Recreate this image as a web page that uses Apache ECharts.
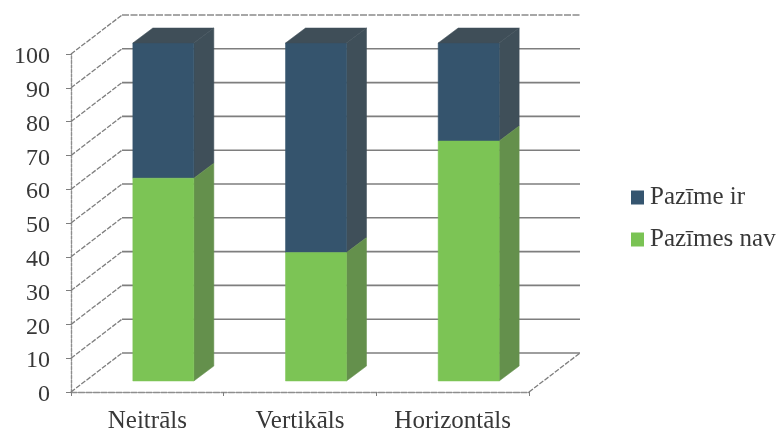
<!DOCTYPE html>
<html><head><meta charset="utf-8">
<style>html,body{margin:0;padding:0;background:#fff}#c{width:779px;height:432px}</style>
<script src="https://cdn.jsdelivr.net/npm/echarts@6/dist/echarts.min.js"></script>
</head><body><div id="c"></div>
<script>
const categories = ['Neitrāls', 'Vertikāls', 'Horizontāls'];
const pazimesNav = [60, 38, 71];
const pazimeIr = [40, 62, 29];
const yTicks = [0, 10, 20, 30, 40, 50, 60, 70, 80, 90, 100];

const FONT = '"Liberation Serif", "Times New Roman", serif';
const TEXT = '#383838';
const wallDx = 51, wallDy = -39;
const barDx = 16, barDy = -11, depthDx = 20, depthDy = -15;
const barWidth = 61;

function poly(points, fill) {
  return { type: 'polygon', shape: { points }, style: { fill, stroke: fill, lineWidth: 0.5 } };
}
function barItem(front, side, top, showTop) {
  return function (params, api) {
    const cat = api.value(0);
    const p0 = api.coord([cat, api.value(1)]);
    const p1 = api.coord([cat, api.value(2)]);
    const xl = p0[0] + barDx - barWidth / 2, xr = xl + barWidth;
    const yb = p0[1] + barDy, yt = p1[1] + barDy;
    const children = [
      poly([[xr, yb], [xr + depthDx, yb + depthDy], [xr + depthDx, yt + depthDy], [xr, yt]], side),
      poly([[xl, yb], [xr, yb], [xr, yt], [xl, yt]], front)
    ];
    if (showTop) {
      children.push(poly([[xl, yt], [xr, yt], [xr + depthDx, yt + depthDy], [xl + depthDx, yt + depthDy]], top));
    }
    return { type: 'group', children };
  };
}
function wallItem(params, api) {
  const v = api.value(0);
  const cs = params.coordSys;
  const y = api.coord([0, v])[1];
  const left = cs.x, right = cs.x + cs.width;
  const top = v === 100;
  const children = [
    { type: 'line', shape: { x1: left, y1: y, x2: left + wallDx, y2: y + wallDy },
      style: { stroke: '#7e7e7e', lineWidth: 1.3, lineDash: [5, 1.5] } },
    { type: 'line', shape: { x1: left + wallDx, y1: y + wallDy, x2: right + wallDx, y2: y + wallDy },
      style: top ? { stroke: '#8a8a8a', lineWidth: 1.4, lineDash: [7, 1.5] } : { stroke: '#7e7e7e', lineWidth: 1.6 } }
  ];
  if (v === 0) {
    children.push({ type: 'line', shape: { x1: right, y1: y, x2: right + wallDx, y2: y + wallDy },
      style: { stroke: '#7e7e7e', lineWidth: 1.3, lineDash: [5, 1.5] } });
  }
  return { type: 'group', children };
}

const chart = echarts.init(document.getElementById('c'), null, { renderer: 'canvas' });
chart.setOption({
  animation: false,
  backgroundColor: '#fff',
  grid: { left: 71, top: 54, width: 458, height: 338, outerBoundsMode: 'none' },
  legend: {
    orient: 'vertical', left: 626, top: 180,
    data: ['Pazīme ir', 'Pazīmes nav'],
    icon: 'rect', itemWidth: 13, itemHeight: 14, itemGap: 17,
    selectedMode: false,
    textStyle: { fontFamily: FONT, fontSize: 25, color: TEXT, padding: [2, 0, 0, 1] }
  },
  xAxis: {
    type: 'category', data: categories,
    axisLine: { lineStyle: { color: '#8e8e8e', type: [6, 1.5], width: 1.4 } },
    axisTick: { show: true, length: 4, lineStyle: { color: '#7e7e7e' } },
    axisLabel: { fontFamily: FONT, fontSize: 25, color: TEXT, margin: 17 }
  },
  yAxis: {
    type: 'value', min: 0, max: 100, interval: 10,
    axisLine: { show: true, lineStyle: { color: '#8e8e8e', type: [3, 1.5], width: 1.4 } },
    axisTick: { show: true, length: 5, lineStyle: { color: '#7e7e7e' } },
    splitLine: { show: false },
    axisLabel: { fontFamily: FONT, fontSize: 24, color: TEXT, margin: 21, verticalAlign: 'top', lineHeight: 6 }
  },
  series: [
    { type: 'custom', name: 'walls', silent: true, z: 1, renderItem: wallItem,
      data: yTicks.map(v => [v]), encode: { y: 0 } },
    { type: 'custom', name: 'Pazīme ir', z: 2, itemStyle: { color: '#35556f' },
      renderItem: barItem('#35546d', '#3f4f59', '#3f4e58', true),
      encode: { x: 0, y: [1, 2] },
      data: categories.map((c, i) => [i, pazimesNav[i], pazimesNav[i] + pazimeIr[i]]) },
    { type: 'custom', name: 'Pazīmes nav', z: 3, itemStyle: { color: '#7ac354' },
      renderItem: barItem('#7cc455', '#64904c', '#64904c', false),
      encode: { x: 0, y: [1, 2] },
      data: categories.map((c, i) => [i, 0, pazimesNav[i]]) }
  ]
});
</script></body></html>
